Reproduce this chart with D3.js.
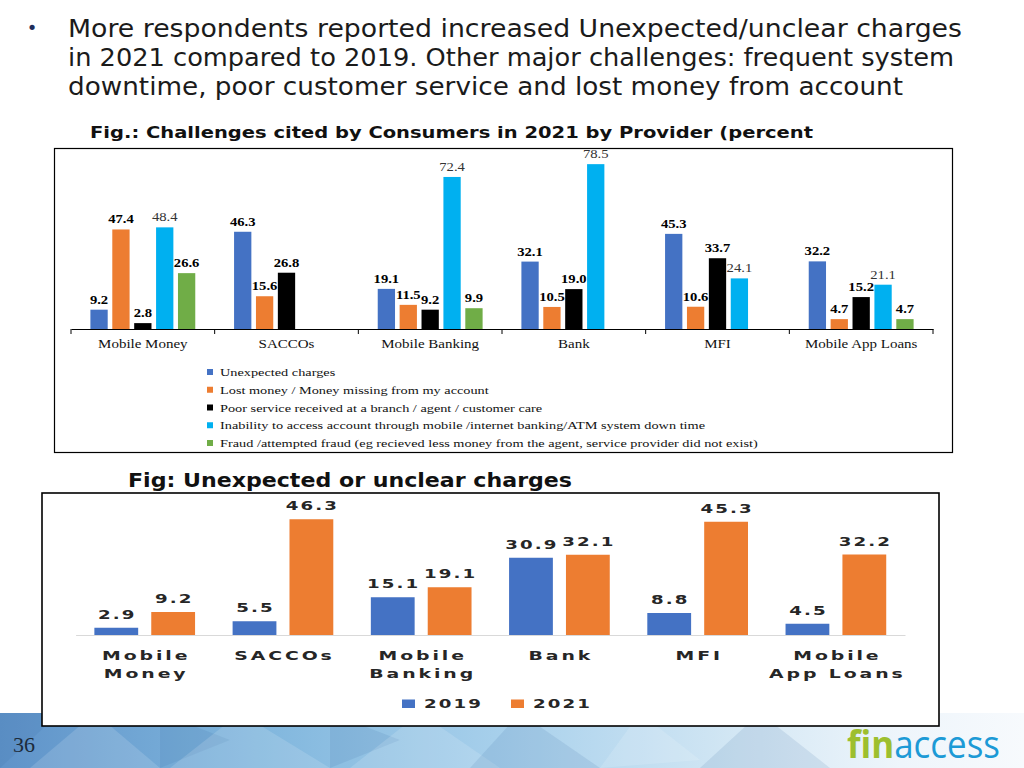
<!DOCTYPE html>
<html><head><meta charset="utf-8">
<script src="https://cdnjs.cloudflare.com/ajax/libs/d3/7.8.5/d3.min.js"></script>
<style>body{margin:0;background:#fff;} svg{display:block;}</style>
</head><body><svg id="c" width="1024" height="768"></svg>
<script>
// ---------- data ----------
const bulletLines = [
  "More respondents reported increased Unexpected/unclear charges",
  "in 2021 compared to 2019. Other major challenges: frequent system",
  "downtime, poor customer service and lost money from account"
];
const topTitle = "Fig.: Challenges cited by Consumers in 2021 by Provider (percent";
const bottomTitle = "Fig: Unexpected or unclear charges";
const providers = ["Mobile Money", "SACCOs", "Mobile Banking", "Bank", "MFI", "Mobile App Loans"];
const challengeNames = [
  "Unexpected charges",
  "Lost money / Money missing from my account",
  "Poor service received at a branch / agent / customer care",
  "Inability to access  account through mobile /internet banking/ATM system down time",
  "Fraud /attempted fraud (eg recieved less money from the agent, service provider did not exist)"
];
const unexpectedCharges = [9.2, 46.3, 19.1, 32.1, 45.3, 32.2];
const lostMoney        = [47.4, 15.6, 11.5, 10.5, 10.6, 4.7];
const poorService      = [2.8, 26.8, 9.2, 19.0, 33.7, 15.2];
const inabilityAccess  = [48.4, null, 72.4, 78.5, 24.1, 21.1];
const fraud            = [26.6, null, 9.9, null, null, 4.7];
const years = ["2019", "2021"];
const charges2019 = [2.9, 5.5, 15.1, 30.9, 8.8, 4.5];
const charges2021 = [9.2, 46.3, 19.1, 32.1, 45.3, 32.2];
const bottomCategoryLines = [["Mobile", "Money"], ["SACCOs"], ["Mobile", "Banking"], ["Bank"], ["MFI"], ["Mobile", "App Loans"]];
const pageNumber = "36";

// ---------- styles ----------
const topSeries = [unexpectedCharges, lostMoney, poorService, inabilityAccess, fraud];
const topColors = ["#4472C4", "#ED7D31", "#000000", "#00B0F0", "#70AD47"];
const botSeries = [charges2019, charges2021];
const botColors = ["#4472C4", "#ED7D31"];
const serif = "'Liberation Serif','Times New Roman',serif";
const sans = "'DejaVu Sans',Verdana,sans-serif";

const svg = d3.select("#c");

// ---------- background band ----------
const defs = svg.append("defs");
const grad = defs.append("linearGradient").attr("id", "band").attr("x1", "0").attr("x2", "1");
[["0%", "#5f93c9"], ["25%", "#80b6dd"], ["50%", "#a9d1ec"], ["72%", "#d3e7f4"], ["88%", "#eef5fb"], ["100%", "#f7fafd"]]
  .forEach(([o, c]) => grad.append("stop").attr("offset", o).attr("stop-color", c));
svg.append("rect").attr("x", 0).attr("y", 713).attr("width", 1024).attr("height", 55).attr("fill", "url(#band)");
const facets = [
  [[0,713],[60,713],[0,768]], [[95,713],[160,768],[30,768]], [[160,713],[230,740],[160,768]],
  [[240,713],[330,768],[170,768]], [[330,713],[400,740],[330,768]], [[420,713],[500,768],[350,768]],
  [[520,713],[600,768],[470,768]], [[640,713],[700,760],[600,768]], [[760,713],[830,768],[700,768]]
];
facets.forEach((p, i) => svg.append("polygon").attr("points", p.map(d => d.join(",")).join(" "))
  .attr("fill", i % 2 ? "#ffffff" : "#2f5f99").attr("opacity", i % 2 ? 0.14 : 0.12));

// ---------- heading text ----------
svg.append("text").attr("x", 32).attr("y", 34).attr("text-anchor", "middle")
  .attr("font-family", sans).attr("font-size", 18).attr("fill", "#1f2d5a").text("•");
const lineWidths = [894, 886, 835];
bulletLines.forEach((t, i) => svg.append("text").attr("x", 68).attr("y", 37 + i * 29)
  .attr("font-family", sans).attr("font-size", 24.5).attr("fill", "#1b1b1b")
  .attr("textLength", lineWidths[i]).attr("lengthAdjust", "spacingAndGlyphs").text(t));
svg.append("text").attr("x", 90).attr("y", 137.5).attr("font-family", sans).attr("font-weight", "bold")
  .attr("font-size", 16.5).attr("fill", "#111").attr("textLength", 723).attr("lengthAdjust", "spacingAndGlyphs").text(topTitle);

// ---------- top chart ----------
svg.append("rect").attr("x", 54.5).attr("y", 148.5).attr("width", 898).attr("height", 304)
  .attr("fill", "#fff").attr("stroke", "#000").attr("stroke-width", 1.2);
const xTop = d3.scaleBand().domain(providers).range([71, 933]).padding(0);
const xTopInner = d3.scaleBand().domain(d3.range(topSeries.length)).range([0, xTop.bandwidth()])
  .paddingInner(0.21).paddingOuter(0.886);
const yTop = d3.scaleLinear().domain([0, 90]).range([329, 140]);

const topAxis = svg.append("g").attr("transform", `translate(0,${yTop(0)})`)
  .call(d3.axisBottom(xTop).tickSize(0).tickSizeOuter(0).tickPadding(10));
topAxis.select(".domain").attr("stroke", "#000").attr("stroke-width", 1);
topAxis.selectAll(".tick text").attr("font-family", serif).attr("font-size", 12).attr("fill", "#111")
  .attr("transform", "scale(1.25,1)");
const boundaries = providers.map(p => xTop(p)).concat([xTop.range()[1]]);
svg.append("g").selectAll("line").data(boundaries).join("line")
  .attr("x1", d => d).attr("x2", d => d).attr("y1", yTop(0)).attr("y2", yTop(0) + 5)
  .attr("stroke", "#000");

topSeries.forEach((vals, si) => {
  const g = svg.append("g");
  providers.forEach((p, pi) => {
    const v = vals[pi];
    if (v == null) return;
    const x = xTop(p) + xTopInner(si);
    g.append("rect").attr("x", x).attr("y", yTop(v)).attr("width", xTopInner.bandwidth())
      .attr("height", yTop(0) - yTop(v)).attr("fill", topColors[si]);
    g.append("g").attr("transform", `translate(${x + xTopInner.bandwidth() / 2},${yTop(v) - 6}) scale(1.22,1)`)
      .append("text").attr("text-anchor", "middle").attr("font-family", serif).attr("font-size", 12)
      .attr("font-weight", si === 3 ? "normal" : "bold").attr("fill", si === 3 ? "#333" : "#000")
      .text(v.toFixed(1));
  });
});

const legY = d3.scalePoint().domain(challengeNames).range([372, 443]);
challengeNames.forEach((n, i) => {
  svg.append("rect").attr("x", 207).attr("y", legY(n) - 3).attr("width", 6).attr("height", 6).attr("fill", topColors[i]);
  svg.append("g").attr("transform", `translate(220,${legY(n) + 4}) scale(1.3,1)`)
    .append("text").attr("font-family", serif).attr("font-size", 11).attr("fill", "#111").text(n);
});

// ---------- bottom chart ----------
svg.append("text").attr("x", 128).attr("y", 486.5).attr("font-family", sans).attr("font-weight", "bold")
  .attr("font-size", 19.5).attr("fill", "#111").attr("textLength", 444).attr("lengthAdjust", "spacingAndGlyphs").text(bottomTitle);
svg.append("rect").attr("x", 42).attr("y", 493).attr("width", 897).attr("height", 233)
  .attr("fill", "#fff").attr("stroke", "#000").attr("stroke-width", 1.6);
const xBot = d3.scaleBand().domain(providers).range([75.6, 905]).padding(0);
const xBotInner = d3.scaleBand().domain(years).range([0, xBot.bandwidth()]).paddingInner(0.23).paddingOuter(0.33);
const yBot = d3.scaleLinear().domain([0, 50]).range([635, 510]);

const botAxis = svg.append("g").attr("transform", `translate(0,${yBot(0)})`)
  .call(d3.axisBottom(xBot).tickSize(0).tickSizeOuter(0).tickFormat(""));
botAxis.select(".domain").attr("stroke", "#d9d9d9").attr("stroke-width", 1);

const botText = (g, t, ls) => g.append("text").attr("text-anchor", "middle").attr("font-family", sans)
  .attr("font-weight", "bold").attr("font-size", 13).attr("letter-spacing", ls + "px").attr("fill", "#262626").text(t);

botSeries.forEach((vals, si) => {
  providers.forEach((p, pi) => {
    const v = vals[pi];
    const x = xBot(p) + xBotInner(years[si]);
    svg.append("rect").attr("x", x).attr("y", yBot(v)).attr("width", xBotInner.bandwidth())
      .attr("height", yBot(0) - yBot(v)).attr("fill", botColors[si]);
    botText(svg.append("g").attr("transform", `translate(${x + xBotInner.bandwidth() / 2 + 1},${yBot(v) - 9}) scale(1.4,1)`), v.toFixed(1), 1.5);
  });
});
providers.forEach((p, pi) => {
  bottomCategoryLines[pi].forEach((ln, li) => {
    botText(svg.append("g").attr("transform", `translate(${xBot(p) + xBot.bandwidth() / 2 + 1.5},${660 + li * 18}) scale(1.45,1)`), ln, 2);
  });
});
const legX = d3.scalePoint().domain(years).range([402, 511]);
years.forEach((yv, i) => {
  svg.append("rect").attr("x", legX(yv)).attr("y", 699.5).attr("width", 13).attr("height", 8.5).attr("fill", botColors[i]);
  svg.append("g").attr("transform", `translate(${legX(yv) + 22},707.5) scale(1.4,1)`)
    .append("text").attr("font-family", sans).attr("font-weight", "bold").attr("font-size", 13)
    .attr("letter-spacing", "1.5px").attr("fill", "#262626").text(yv);
});

// ---------- footer ----------
svg.append("text").attr("x", 13).attr("y", 752).attr("font-family", serif).attr("font-size", 22)
  .attr("fill", "#1d2b3a").text(pageNumber);
const logo = svg.append("g").attr("transform", "translate(847,758) scale(0.92,1)")
  .append("text").attr("font-family", "'Open Sans',sans-serif").attr("font-size", 38);
logo.append("tspan").attr("fill", "#9dbf2e").attr("font-weight", "bold").text("fin");
logo.append("tspan").attr("fill", "#1c9ad6").text("access");
</script></body></html>
